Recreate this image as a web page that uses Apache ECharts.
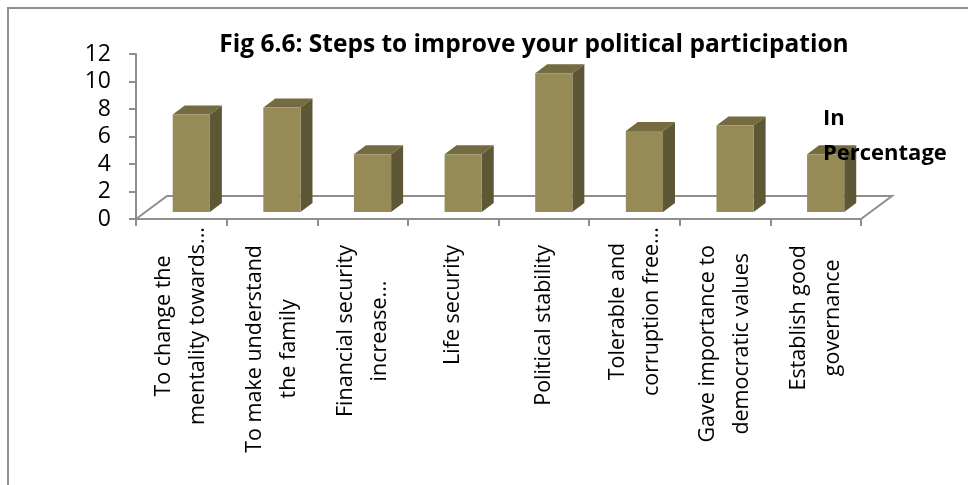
<!DOCTYPE html>
<html>
<head>
<meta charset="utf-8">
<script src="https://cdn.jsdelivr.net/npm/echarts@6/dist/echarts.min.js"></script>
<style>
html,body{margin:0;padding:0;background:#fff;}
#chart{width:968px;height:485px;}
</style>
</head>
<body>
<div id="chart"></div>
<script>
// ---- data ----
const titleText = 'Fig 6.6: Steps to improve your political participation';
const seriesName = 'In Percentage';
const categories = [
  'To change the\nmentality towards...',
  'To make understand\nthe family',
  'Financial security\nincrease...',
  'Life security',
  'Political stability',
  'Tolerable and\ncorruption free...',
  'Gave importance to\ndemocratic values',
  'Establish good\ngovernance'
];
const values = [7.1, 7.6, 4.2, 4.2, 10.1, 5.9, 6.3, 4.2];
const yMin = 0, yMax = 12, yStep = 2;

// ---- styling ----
const FONT = '"Open Sans", "Liberation Sans", sans-serif';
const GRAY = '#8e8e8e';
const FRONT = '#968b56', SIDE = '#5e5736', TOP = '#746b40';
const LABEL_SIZE = 21.5;

// measure helper to decide whether the longest line ends in an ellipsis
const mctx = document.createElement('canvas').getContext('2d');
mctx.font = LABEL_SIZE + 'px ' + FONT;
function longestHasEllipsis(label) {
  const lines = label.split('\n');
  let best = lines[0], bw = -1;
  lines.forEach(l => { const w = mctx.measureText(l).width; if (w > bw) { bw = w; best = l; } });
  return /\.\.\.$/.test(best);
}

const chart = echarts.init(document.getElementById('chart'), null, {renderer: 'canvas'});

const tokenBase = {fontSize: LABEL_SIZE, fontFamily: FONT, color: '#000', lineHeight: 34, align: 'center'};

const option = {
  backgroundColor: '#fff',
  animation: false,
  title: {
    text: titleText,
    left: 529, top: 28, textAlign: 'center',
    textStyle: {fontFamily: FONT, fontSize: 24.5, fontWeight: 'bold', color: '#000'}
  },
  legend: {
    data: [{name: seriesName, icon: 'none'}],
    left: 813, top: 96,
    itemWidth: 0, itemHeight: 0, itemGap: 0,
    formatter: () => 'In\nPercentage',
    textStyle: {fontFamily: FONT, fontSize: 22, fontWeight: 'bold', color: '#000', lineHeight: 35, padding: 0},
    selectedMode: false
  },
  graphic: [{
    type: 'rect', silent: true, z: -10,
    shape: {x: 8, y: 8, width: 1200, height: 1200},
    style: {fill: 'none', stroke: '#8f8f8f', lineWidth: 2}
  }],
  grid: {left: 136, right: 107, top: 54, bottom: 266, containLabel: false},
  xAxis: {
    type: 'category',
    data: categories,
    boundaryGap: true,
    axisLine: {show: true, lineStyle: {color: GRAY, width: 2}},
    axisTick: {show: true, length: 7, lineStyle: {color: GRAY, width: 2}, alignWithLabel: false},
    axisLabel: {
      interval: 0, rotate: 90, margin: 8,
      formatter: (val) => {
        const st = longestHasEllipsis(val) ? 'c' : 'p';
        return val.split('\n').map(l => '{' + st + '|' + l + '}').join('\n');
      },
      rich: {
        c: Object.assign({}, tokenBase),
        p: Object.assign({}, tokenBase, {padding: [0, 18, 0, 0]})
      }
    },
    splitLine: {show: false}
  },
  yAxis: {
    type: 'value', min: yMin, max: yMax, interval: yStep,
    axisLine: {show: true, lineStyle: {color: GRAY, width: 2}},
    axisTick: {show: true, length: 7, lineStyle: {color: GRAY, width: 2}},
    axisLabel: {fontFamily: FONT, fontSize: 23, color: '#000', margin: 25},
    splitLine: {show: false}
  },
  series: [
    {
      type: 'custom',
      name: 'floor',
      silent: true,
      z: 1,
      data: [[0, 0]],
      renderItem: (params, api) => {
        const cs = params.coordSys;
        const dx = 31, dy = 23;
        const x0 = cs.x, x1 = cs.x + cs.width, yb = cs.y + cs.height;
        return {
          type: 'polyline',
          shape: {points: [[x0, yb], [x0 + dx, yb - dy], [x1 + dx, yb - dy], [x1, yb]]},
          style: {fill: 'none', stroke: GRAY, lineWidth: 2}
        };
      }
    },
    {
      type: 'custom',
      name: seriesName,
      z: 2,
      itemStyle: {color: FRONT},
      data: values.map((v, i) => [i, v]),
      encode: {x: 0, y: 1},
      renderItem: (params, api) => {
        const i = api.value(0), v = api.value(1);
        const base = api.coord([i, 0]);
        const top = api.coord([i, v]);
        const band = api.size([1, 0])[0];
        const w = band * 0.41;
        const shift = band * 0.11;
        const lift = 7, dx = 12, dy = 9;
        const x0 = base[0] + shift - w / 2, x1 = x0 + w;
        const yb = base[1] - lift, yt = top[1] - lift;
        return {
          type: 'group',
          children: [
            {type: 'polygon', shape: {points: [[x1, yb], [x1, yt], [x1 + dx, yt - dy], [x1 + dx, yb - dy]]}, style: {fill: SIDE}},
            {type: 'polygon', shape: {points: [[x0, yt], [x1, yt], [x1 + dx, yt - dy], [x0 + dx, yt - dy]]}, style: {fill: TOP}},
            {type: 'rect', shape: {x: x0, y: yt, width: w, height: yb - yt}, style: {fill: FRONT}}
          ]
        };
      }
    }
  ]
};
chart.setOption(option);
</script>
</body>
</html>
